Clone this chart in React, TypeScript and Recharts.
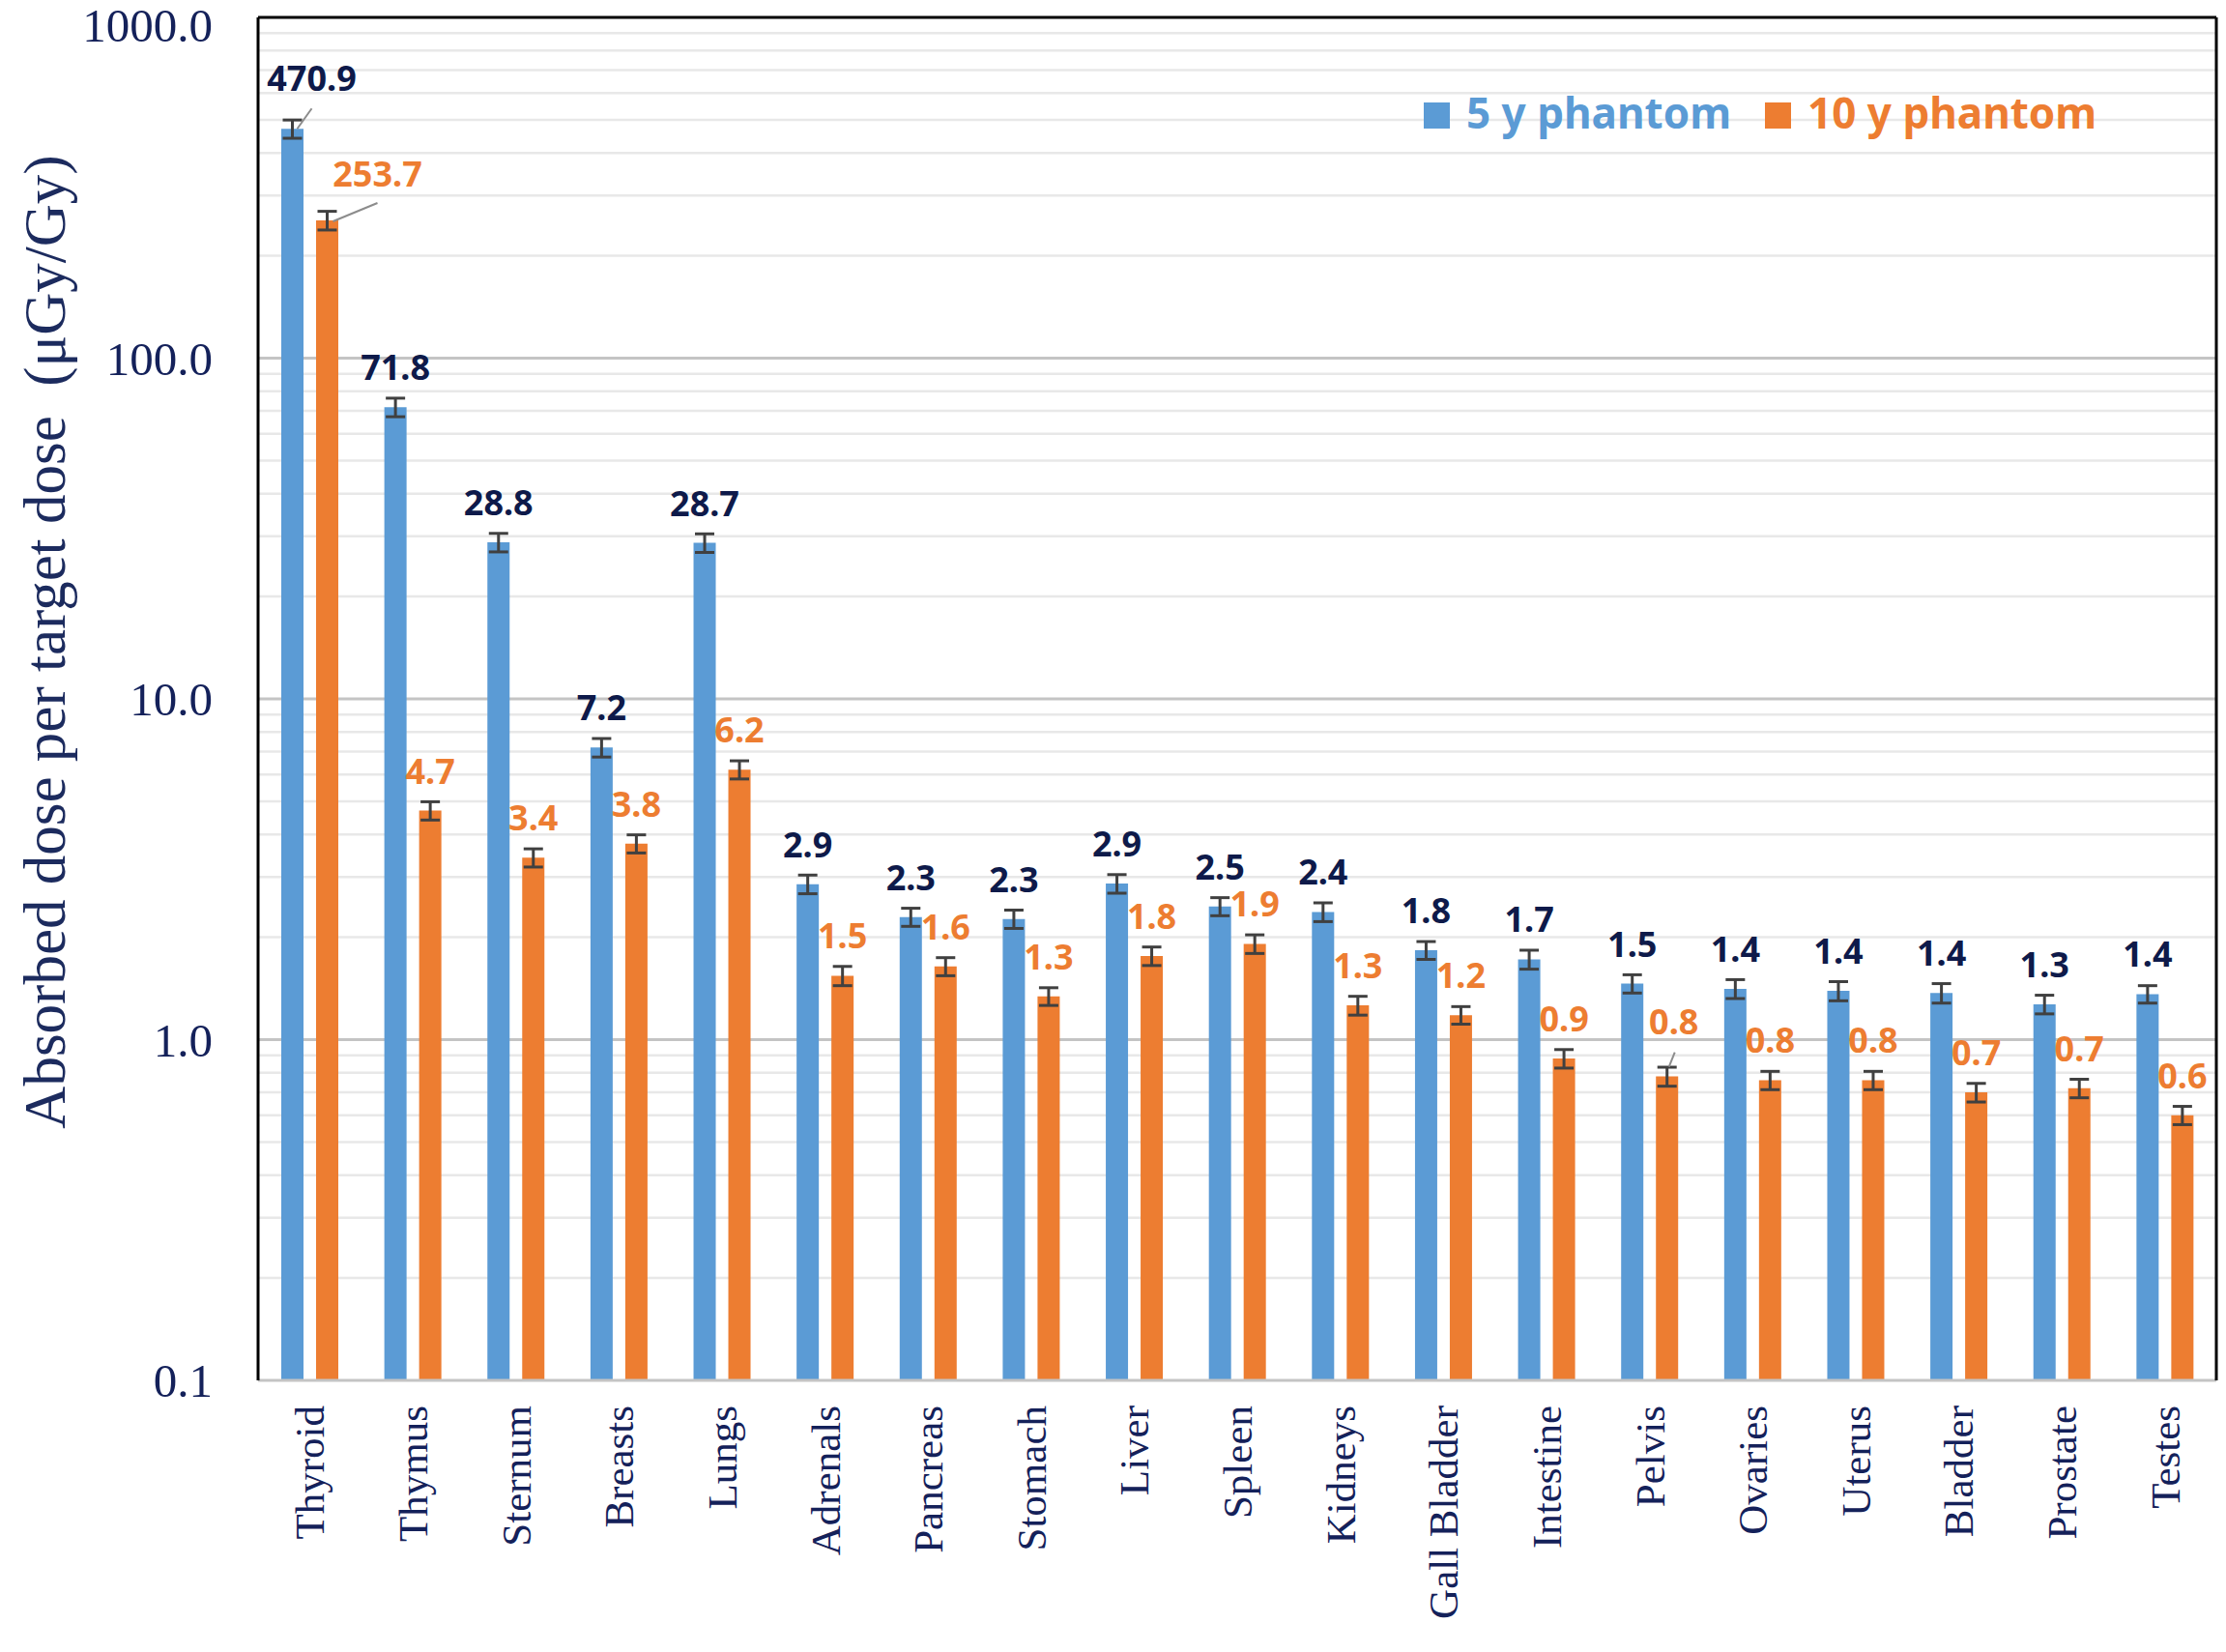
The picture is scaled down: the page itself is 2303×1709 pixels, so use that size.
import React from "react";
import {
  BarChart,
  Bar,
  XAxis,
  YAxis,
  CartesianGrid,
  ErrorBar,
  Legend,
  ReferenceLine,
} from "recharts";

const ORGANS = [
  "Thyroid", "Thymus", "Sternum", "Breasts", "Lungs", "Adrenals", "Pancreas",
  "Stomach", "Liver", "Spleen", "Kidneys", "Gall Bladder", "Intestine", "Pelvis",
  "Ovaries", "Uterus", "Bladder", "Prostate", "Testes",
];

// absorbed dose per target dose (µGy/Gy)
const PHANTOM_5Y = [
  470.9, 71.8, 28.8, 7.2, 28.7, 2.86, 2.29, 2.26, 2.87, 2.46, 2.37, 1.83, 1.72,
  1.46, 1.41, 1.39, 1.37, 1.27, 1.36,
];
const PHANTOM_10Y = [
  253.7, 4.7, 3.42, 3.76, 6.2, 1.54, 1.64, 1.34, 1.76, 1.91, 1.26, 1.18, 0.88,
  0.78, 0.76, 0.76, 0.7, 0.72, 0.6,
];
const ERR_5Y = [
  29, 4.5, 1.8, 0.45, 1.8, 0.18, 0.14, 0.14, 0.18, 0.15, 0.15, 0.11, 0.11,
  0.09, 0.09, 0.09, 0.09, 0.08, 0.08,
];
const ERR_10Y = [
  16, 0.29, 0.21, 0.23, 0.38, 0.1, 0.1, 0.08, 0.11, 0.12, 0.08, 0.07, 0.055,
  0.05, 0.047, 0.047, 0.044, 0.045, 0.037,
];

const DECADES = [0.1, 1, 10, 100, 1000];
const GRID_TICKS = [
  0.1, 0.2, 0.3, 0.4, 0.5, 0.6, 0.7, 0.8, 0.9,
  1, 2, 3, 4, 5, 6, 7, 8, 9,
  10, 20, 30, 40, 50, 60, 70, 80, 90,
  100, 200, 300, 400, 500, 600, 700, 800, 900, 1000,
];

const data = ORGANS.map((organ, i) => ({
  organ,
  y5: PHANTOM_5Y[i],
  y10: PHANTOM_10Y[i],
  e5: ERR_5Y[i],
  e10: ERR_10Y[i],
}));

const BLUE = "#5b9bd5";
const ORANGE = "#ed7d31";
const NAVY = "#14215a";
const SERIF = "'Liberation Serif', 'Times New Roman', serif";
const SANS = "'Noto Sans', 'Open Sans', sans-serif";

// labels that Excel pulled away from the bar, with a leader line
const NUDGE_5Y: Record<number, any> = {
  0: { dx: 20, dy: -52, line: [20, -21, 5, 0] },
};
const NUDGE_10Y: Record<number, any> = {
  0: { dx: 52, dy: -48, line: [52, -18, 6, 1] },
  13: { dx: 7, dy: -56, line: [8, -25, 2, -10] },
};

const makeLabel = (color: string, series: number[], nudges: Record<number, any>) => (p: any) => {
  const { x, y, width, value } = p;
  const idx = p.index ?? series.indexOf(value);
  const cx = x + width / 2;
  const n = nudges[idx];
  const lx = cx + (n ? n.dx : 0);
  const ly = y + (n ? n.dy : -41);
  return (
    <g key={`lbl-${color}-${idx}`}>
      {n && (
        <line
          x1={cx + n.line[0]}
          y1={y + n.line[1]}
          x2={cx + n.line[2]}
          y2={y + n.line[3]}
          stroke="#8c8c8c"
          strokeWidth={2}
        />
      )}
      <text
        x={lx}
        y={ly}
        dy="0.36em"
        textAnchor="middle"
        fill={color}
        fontFamily={SANS}
        fontWeight={700}
        fontSize={36}
      >
        {Number(value).toFixed(1)}
      </text>
    </g>
  );
};

const OrganTick = (props: any) => {
  const { x, y, payload } = props;
  return (
    <text
      x={x}
      y={y}
      dy="0.35em"
      transform={`rotate(-90, ${x}, ${y})`}
      textAnchor="end"
      fill={NAVY}
      fontFamily={SERIF}
      fontSize={43}
    >
      {payload.value}
    </text>
  );
};

const DoseTick = (props: any) => {
  const { x, y, payload } = props;
  const v = payload.value;
  if (!DECADES.includes(v)) return <g />;
  return (
    <text
      x={x}
      y={y}
      dy={v === 1000 ? "0.5em" : "0.35em"}
      textAnchor="end"
      fill={NAVY}
      fontFamily={SERIF}
      fontSize={49}
    >
      {v.toFixed(1)}
    </text>
  );
};

const gridLine = (p: any) => {
  const v = GRID_TICKS[p.index];
  if (v === 0.1 || v === 1000) return <g key={p.key} />;
  const major = DECADES.includes(v);
  return (
    <line
      key={p.key}
      x1={p.x1}
      x2={p.x2}
      y1={p.y1}
      y2={p.y2}
      stroke={major ? "#c4c4c4" : "#e8e8e8"}
      strokeWidth={major ? 3 : 2.5}
    />
  );
};

const LegendBox = () => (
  <div style={{ display: "flex", alignItems: "center", fontFamily: SANS, fontWeight: 700, fontSize: 44, lineHeight: 1, whiteSpace: "nowrap" }}>
    <span style={{ width: 27, height: 27, background: BLUE, marginRight: 17, marginTop: 6 }} />
    <span style={{ color: BLUE, marginRight: 35 }}>5 y phantom</span>
    <span style={{ width: 27, height: 27, background: ORANGE, marginRight: 17, marginTop: 6 }} />
    <span style={{ color: ORANGE }}>10 y phantom</span>
  </div>
);

const TITLE = "Absorbed dose per target dose  (μGy/Gy)";

export default function App() {
  return (
    <div>
      <style>{"body{margin:0;background:#fff}"}</style>
      <BarChart
        width={2303}
        height={1709}
        data={data}
        barGap={13}
        margin={{ top: 18, right: 9, left: 0, bottom: 0 }}
      >
        <CartesianGrid vertical={false} horizontal={gridLine} />
        <XAxis
          dataKey="organ"
          height={281}
          interval={0}
          tickLine={false}
          tickSize={6}
          tickMargin={20}
          axisLine={{ stroke: "#c4c4c4", strokeWidth: 3 }}
          tick={<OrganTick />}
        />
        <YAxis
          scale="log"
          type="number"
          domain={[0.1, 1000]}
          allowDataOverflow
          ticks={GRID_TICKS}
          interval={0}
          width={267}
          tickLine={false}
          tickSize={6}
          tickMargin={41}
          axisLine={{ stroke: "#000", strokeWidth: 3 }}
          tick={<DoseTick />}
          label={{
            content: (p: any) => {
              const vb = p.viewBox || { x: 0, y: 18, width: 267, height: 1410 };
              const cx = vb.x + 46;
              const cy = vb.y + vb.height / 2 - 59;
              return (
                <text
                  x={cx}
                  y={cy}
                  transform={`rotate(-90, ${cx}, ${cy})`}
                  textAnchor="middle"
                  dominantBaseline="central"
                  fill="#1c2b5e"
                  fontFamily={SERIF}
                  fontSize={61}
                  style={{ whiteSpace: "pre" }}
                >
                  {TITLE}
                </text>
              );
            },
          }}
        />
        <YAxis
          yAxisId="frame"
          orientation="right"
          scale="log"
          type="number"
          domain={[0.1, 1000]}
          allowDataOverflow
          width={1}
          tick={false}
          tickLine={false}
          axisLine={{ stroke: "#000", strokeWidth: 3 }}
        />
        <ReferenceLine y={1000} stroke="#000" strokeWidth={3} />
        <Legend
          layout="horizontal"
          verticalAlign="middle"
          align="center"
          wrapperStyle={{ top: 94, left: 1473, width: "auto" }}
          content={() => <LegendBox />}
        />
        <Bar
          dataKey="y5"
          name="5 y phantom"
          fill={BLUE}
          barSize={23}
          isAnimationActive={false}
          label={makeLabel("#0e1a4a", PHANTOM_5Y, NUDGE_5Y)}
        >
          <ErrorBar dataKey="e5" direction="y" width={10} stroke="#404040" strokeWidth={3} />
        </Bar>
        <Bar
          dataKey="y10"
          name="10 y phantom"
          fill={ORANGE}
          barSize={23}
          isAnimationActive={false}
          label={makeLabel(ORANGE, PHANTOM_10Y, NUDGE_10Y)}
        >
          <ErrorBar dataKey="e10" direction="y" width={10} stroke="#404040" strokeWidth={3} />
        </Bar>
      </BarChart>
    </div>
  );
}
